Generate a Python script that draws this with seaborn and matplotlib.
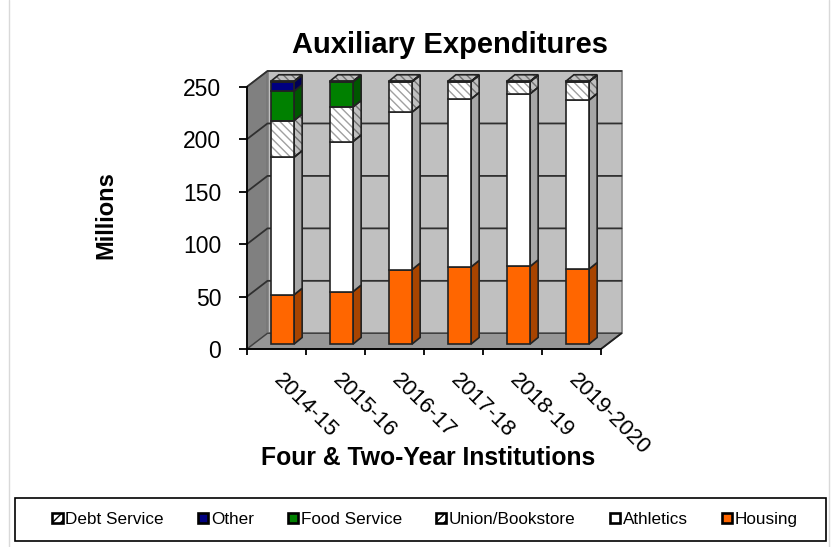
import numpy as np
import pandas as pd
import matplotlib
matplotlib.use("Agg")
import matplotlib.pyplot as plt
import seaborn as sns
from matplotlib.lines import Line2D
from matplotlib.patches import Patch, Polygon, Rectangle

years = ["2014-15", "2015-16", "2016-17", "2017-18", "2018-19", "2019-2020"]
housing = [47, 50, 71, 73.5, 74, 71.5]
athletics = [131, 143, 150, 160, 164.5, 161]
union = [35, 33, 29, 16.5, 11.5, 17.5]
food = [28, 24, 0, 0, 0, 0]
other = [9, 0, 0, 0, 0, 0]
debt = [0.4, 0.4, 0.4, 0.4, 0.4, 0.4]
yticks = [0, 50, 100, 150, 200, 250]

names = ["Housing", "Athletics", "Union/Bookstore", "Food Service", "Other", "Debt Service"]
values = [housing, athletics, union, food, other, debt]
colors = ["#ff6600", "#ffffff", "#ffffff", "#008000", "#000080", "#ffffff"]
side_colors = ["#a84400", "#a6a6a6", "#c0c0c0", "#005600", "#000055", "#c0c0c0"]
hatched = [False, False, True, False, False, True]
HATCH = "\\\\\\\\"

W, H = 836, 547
sns.set_style("white")
plt.rcParams["font.family"] = ["Liberation Sans", "DejaVu Sans"]
plt.rcParams["hatch.linewidth"] = 1.0
plt.rcParams["text.color"] = "black"
plt.rcParams["axes.labelcolor"] = "black"
plt.rcParams["xtick.color"] = "black"
plt.rcParams["ytick.color"] = "black"
plt.rcParams["axes.titlecolor"] = "black"

fig = plt.figure(figsize=(W / 100, H / 100), dpi=100)


def axes_rect(x0, x1, y_bottom, y_top):
    return [x0 / W, 1 - y_bottom / H, (x1 - x0) / W, (y_bottom - y_top) / H]


# front plane of the chart box and the plane the bars stand on
ax = fig.add_axes(axes_rect(247, 601, 349, 86.7))
ax_bars = fig.add_axes(axes_rect(253, 607, 344, 81.7))
ax_bars.patch.set_alpha(0)

px_x = 354 / 6
px_y = 262.3 / 250
wall_dx = 20.5 / px_x
wall_dy = 15.7 / px_y
bar_dx = 8 / px_x
bar_dy = 6.5 / px_y

ax.set_xlim(-0.5, 5.5)
ax.set_ylim(0, 250)
x0, x1 = ax.get_xlim()

# walls and floor
ax.add_patch(Polygon([(x0, 0), (x0 + wall_dx, wall_dy), (x0 + wall_dx, 250 + wall_dy), (x0, 250)],
                     fc="#808080", ec="#606060", lw=1, clip_on=False, zorder=1))
ax.add_patch(Rectangle((x0 + wall_dx, wall_dy), x1 - x0, 250, fc="#c0c0c0", ec="#808080",
                       lw=1.2, clip_on=False, zorder=1))
ax.add_patch(Polygon([(x0, 0), (x1, 0), (x1 + wall_dx, wall_dy), (x0 + wall_dx, wall_dy)],
                     fc="#969696", ec="#404040", lw=1, clip_on=False, zorder=1))
for t in yticks[1:]:
    ax.plot([x0, x0 + wall_dx, x1 + wall_dx], [t, t + wall_dy, t + wall_dy], color="#303030",
            lw=1.3, clip_on=False, zorder=2)
ax.plot([x1, x1 + wall_dx], [0, wall_dy], color="#202020", lw=1.3, clip_on=False, zorder=2)

sns.despine(ax=ax, top=True, right=True)
for side in ["left", "bottom"]:
    ax.spines[side].set_linewidth(1.3)
    ax.spines[side].set_color("black")
ax.set_yticks(yticks)
ax.set_xticks(range(len(years)))
ax.set_xticklabels(years, rotation=-45, ha="left", va="center", rotation_mode="anchor")
ax.set_xticks(np.arange(x0, x1 + 0.5), minor=True)
ax.tick_params(axis="y", left=True, length=5.5, width=1.3, pad=13, labelsize=16.5)
ax.tick_params(axis="x", which="major", bottom=False, length=0, pad=20, labelsize=15.8)
ax.tick_params(axis="x", which="minor", bottom=True, length=4.5, width=1.3)

ax.set_xlabel("Four & Two-Year Institutions", fontsize=17.8, fontweight="bold")
ax.xaxis.set_label_coords((428 - 247) / 354, (349 - 458) / 262.3)
ax.xaxis.label.set_va("center")
ax.set_ylabel("Millions", fontsize=17, fontweight="bold")
ax.yaxis.set_label_coords((106 - 247) / 354, (349 - 215) / 262.3)
ax.yaxis.label.set_va("center")
ax.set_title("Auxiliary Expenditures", fontsize=21, fontweight="bold",
             x=(450 - 247) / 354, y=(349 - 53) / 262.3, va="baseline", pad=0)


def face(axis, pts, fc, hatch):
    if hatch:
        axis.add_patch(Polygon(pts, fc=fc, ec="#707070", hatch=HATCH, lw=0, clip_on=False, zorder=3))
        axis.add_patch(Polygon(pts, fc="none", ec="#222222", lw=1.2, clip_on=False, zorder=4))
    else:
        axis.add_patch(Polygon(pts, fc=fc, ec="#222222", lw=1.2, clip_on=False, zorder=4))


# stacked bars
bottom = np.zeros(len(years))
for name, vals, color, side, hat in zip(names, values, colors, side_colors, hatched):
    vals = np.array(vals, dtype=float)
    keep = vals > 0
    sub = pd.DataFrame({"year": np.array(years)[keep], "value": vals[keep]})
    sns.barplot(data=sub, x="year", y="value", order=years, color=color, saturation=1,
                width=0.395, bottom=bottom[keep], ax=ax_bars, zorder=5,
                edgecolor="#a0a0a0" if hat else "#222222", linewidth=0 if hat else 1.2,
                hatch=HATCH if hat else None)
    for p in ax_bars.containers[-1]:
        bx, by, bw, bh = p.get_x(), p.get_y(), p.get_width(), p.get_height()
        if hat:
            ax_bars.add_patch(Rectangle((bx, by), bw, bh, fc="none", ec="#222222", lw=1.2,
                                        clip_on=False, zorder=6))
        p.set_clip_on(False)
        r = bx + bw
        face(ax_bars, [(r, by), (r + bar_dx, by + bar_dy), (r + bar_dx, by + bh + bar_dy), (r, by + bh)],
             side, hat)
    bottom = bottom + vals

# top face of each column carries the thin debt service layer
for p in ax_bars.containers[-1]:
    bx, bw, top = p.get_x(), p.get_width(), p.get_y() + p.get_height()
    face(ax_bars, [(bx, top), (bx + bw, top), (bx + bw + bar_dx, top + bar_dy), (bx + bar_dx, top + bar_dy)],
         "#c0c0c0", True)

ax_bars.set_xlim(-0.5, 5.5)
ax_bars.set_ylim(0, 250)
ax_bars.axis("off")

# page edges
fig.add_artist(Line2D([8.5 / W, 8.5 / W], [0, 1], color="#d9d9d9", lw=1))
fig.add_artist(Line2D([828.5 / W, 828.5 / W], [0, 1], color="#d9d9d9", lw=1))

# legend
fig.add_artist(Rectangle((15 / W, 1 - 540.5 / H), 811 / W, 43 / H, fc="white", ec="black", lw=1.2,
                         transform=fig.transFigure))
order = [5, 4, 3, 2, 1, 0]
handles = [Patch(fc=colors[i], ec="black", lw=1.9, hatch=("////" if hatched[i] else None)) for i in order]
fig.legend(handles, [names[i] for i in order], ncol=6, frameon=False, fontsize=12.3,
           loc="center", bbox_to_anchor=(425 / W, 1 - 519.5 / H),
           handlelength=0.6, handleheight=0.6, handletextpad=0.15, columnspacing=2.0)

fig.savefig("out.png", dpi=100)
